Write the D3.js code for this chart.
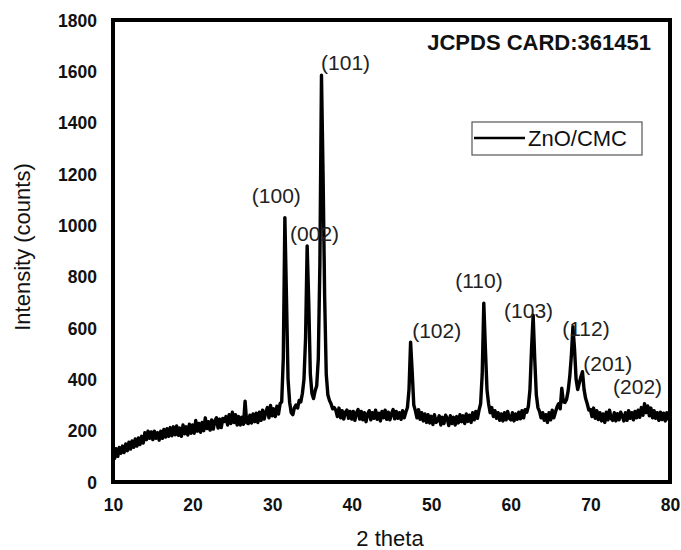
<!DOCTYPE html>
<html>
<head>
<meta charset="utf-8">
<script src="https://cdn.jsdelivr.net/npm/d3@7"></script>
<style>
  html, body { margin: 0; padding: 0; background: #fff; }
  svg { display: block; font-family: Arial, "Liberation Sans", sans-serif; }
</style>
</head>
<body>
<svg id="chart" width="681" height="550"></svg>
<script>
// ---- Data ----
const thetaStart = 10;   // 2θ of first sample
const thetaStep = 0.2;   // sampling step of the diffractogram
const intensity = [
  // 10.0 – 19.8
  115, 92, 130, 100, 135, 112, 140, 115, 148, 122,
  155, 128, 160, 135, 168, 140, 172, 146, 178, 152,
  192, 165, 198, 170, 195, 165, 198, 170, 192, 163,
  198, 170, 205, 175, 208, 178, 212, 180, 215, 184,
  218, 182, 210, 178, 222, 188, 215, 183, 225, 190,
  // 20.0 – 29.8
  222, 190, 240, 198, 228, 194, 232, 200, 250, 208,
  235, 202, 242, 206, 238, 250, 210, 245, 212, 248,
  236, 255, 222, 262, 228, 272, 232, 262, 222, 255,
  222, 252, 225, 315, 232, 228, 260, 230, 265, 235,
  268, 232, 272, 240, 280, 245, 272, 290, 250, 298,
  // 30.0 – 39.8
  258, 285, 255, 295, 265, 305, 312, 480, 1030, 720,
  400, 310, 270, 262, 290, 300, 288, 318, 312, 345,
  400, 560, 920, 700, 420, 345, 325, 355, 375, 480,
  850, 1585, 1200, 720, 420, 340, 318, 305, 285, 290,
  280, 255, 288, 250, 278, 245, 272, 280, 248, 275,
  // 40.0 – 49.8
  245, 275, 240, 270, 282, 245, 275, 242, 270, 235,
  265, 278, 242, 270, 248, 280, 244, 268, 238, 275,
  250, 280, 244, 272, 242, 266, 282, 246, 275, 248,
  270, 244, 278, 250, 272, 290, 360, 545, 430, 300,
  278, 250, 282, 244, 270, 238, 265, 232, 262, 230,
  // 50.0 – 59.8
  256, 224, 262, 232, 240, 258, 222, 252, 228, 260,
  248, 220, 258, 228, 252, 222, 255, 230, 262, 235,
  258, 228, 265, 236, 260, 232, 270, 242, 275, 248,
  280, 305, 420, 697, 520, 360, 305, 270, 290, 255,
  278, 248, 270, 240, 265, 238, 270, 242, 275, 248,
  // 60.0 – 69.8
  242, 270, 238, 265, 244, 272, 246, 278, 250, 282,
  272, 295, 360, 520, 650, 480, 340, 290, 275, 250,
  270, 240, 262, 232, 270, 242, 280, 250, 272, 292,
  305, 285, 365, 312, 310, 322, 355, 410, 490, 605,
  520, 400, 360, 385, 410, 430, 360, 325, 305, 280,
  // 70.0 – 80.0
  282, 255, 288, 248, 278, 243, 270, 238, 265, 232,
  272, 242, 280, 248, 240, 270, 238, 266, 242, 272,
  258, 238, 270, 240, 278, 248, 270, 242, 275, 250,
  280, 252, 290, 260, 305, 270, 296, 258, 288, 250,
  278, 248, 270, 240, 272, 243, 268, 238, 270, 245,
  255
];
const xTicks = [10, 20, 30, 40, 50, 60, 70, 80];
const yTicks = [0, 200, 400, 600, 800, 1000, 1200, 1400, 1600, 1800];
const peakLabels = ["(100)", "(002)", "(101)", "(102)", "(110)", "(103)", "(112)", "(201)", "(202)"];
const labelTheta = [27.45, 32.25, 36.15, 47.6, 53.0, 59.15, 66.45, 69.1, 72.85];
const labelIntensity = [1087, 939, 1605, 561, 756, 639, 569, 432, 343];
const seriesName = "ZnO/CMC";
const cardText = "JCPDS CARD:361451";

// ---- Layout ----
const svg = d3.select("#chart");
const x = d3.scaleLinear().domain([10, 80]).range([113, 670]);
const y = d3.scaleLinear().domain([0, 1800]).range([482, 20]);

const points = intensity.map((v, i) => [thetaStart + i * thetaStep, v]);

// series line
const line = d3.line().x(d => x(d[0])).y(d => y(d[1]));
svg.append("path")
  .datum(points)
  .attr("fill", "none")
  .attr("stroke", "#000")
  .attr("stroke-width", 3.4)
  .attr("stroke-linejoin", "round")
  .attr("d", line);

// frame
svg.append("rect")
  .attr("x", x(10)).attr("y", y(1800))
  .attr("width", x(80) - x(10)).attr("height", y(0) - y(1800))
  .attr("fill", "none").attr("stroke", "#000").attr("stroke-width", 4);

// axes (labels only, as in the original)
const xAxis = svg.append("g").attr("transform", `translate(0,${y(0) + 12})`)
  .call(d3.axisBottom(x).tickValues(xTicks).tickFormat(d3.format("d")).tickSize(0).tickPadding(0));
const yAxis = svg.append("g").attr("transform", `translate(${x(10) - 16},0)`)
  .call(d3.axisLeft(y).tickValues(yTicks).tickFormat(d3.format("d")).tickSize(0).tickPadding(0));
[xAxis, yAxis].forEach(g => {
  g.select(".domain").remove();
  g.selectAll("text")
    .attr("font-family", "Arial, 'Liberation Sans', sans-serif")
    .attr("font-size", 17.5).attr("font-weight", "bold").attr("fill", "#111");
});
xAxis.selectAll("text").attr("dy", "0.95em");
yAxis.selectAll("text").attr("dy", "0.35em");

// axis titles
svg.append("text")
  .attr("x", 390).attr("y", 546)
  .attr("text-anchor", "middle")
  .attr("font-size", 22).attr("fill", "#111")
  .text("2 theta");
svg.append("text")
  .attr("transform", "translate(30,247) rotate(-90)")
  .attr("text-anchor", "middle")
  .attr("font-size", 22).attr("fill", "#111")
  .text("Intensity (counts)");

// card text
svg.append("text")
  .attr("x", 651).attr("y", 50)
  .attr("text-anchor", "end")
  .attr("font-size", 22).attr("font-weight", "bold").attr("fill", "#111")
  .text(cardText);

// legend
const lg = svg.append("g");
lg.append("rect").attr("x", 472).attr("y", 122).attr("width", 170).attr("height", 33)
  .attr("fill", "#fff").attr("stroke", "#555").attr("stroke-width", 1.2);
lg.append("line").attr("x1", 474).attr("x2", 525).attr("y1", 138).attr("y2", 138)
  .attr("stroke", "#000").attr("stroke-width", 2.6);
lg.append("text").attr("x", 528).attr("y", 146)
  .attr("font-size", 22).attr("fill", "#111").text(seriesName);

// peak labels
svg.append("g").selectAll("text")
  .data(peakLabels)
  .join("text")
  .attr("x", (d, i) => x(labelTheta[i]))
  .attr("y", (d, i) => y(labelIntensity[i]))
  .attr("font-size", 21).attr("fill", "#222")
  .text(d => d);
</script>
</body>
</html>
